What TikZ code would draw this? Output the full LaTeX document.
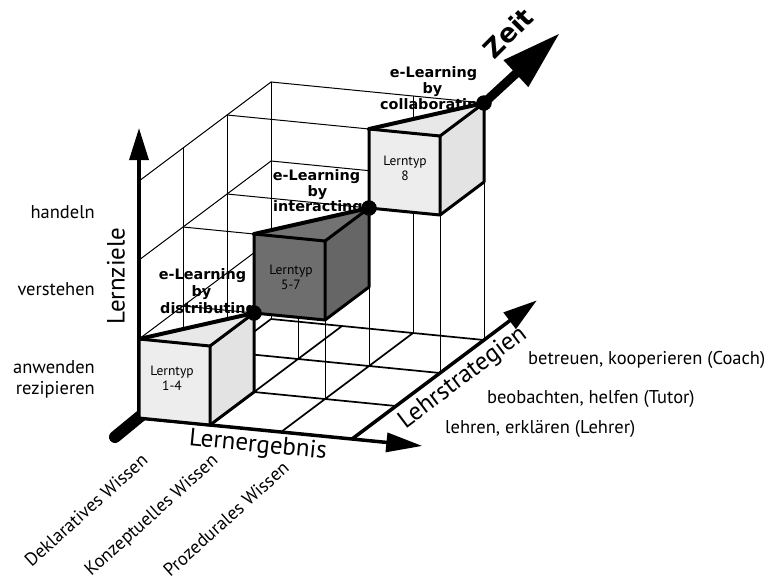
\documentclass[tikz,border=0pt]{standalone}
\usepackage{fontspec}
\setmainfont{PT Sans}
\newfontfamily\heavyfont{DejaVu Sans}
\usetikzlibrary{arrows.meta}
\newcommand\ecube[4]{%
  \fill[#2] (#1,#1,#1) -- (#1+1,#1,#1) -- (#1+1,#1+1,#1) -- (#1,#1+1,#1) -- cycle;
  \fill[#3] (#1+1,#1,#1) -- (#1+1,#1,#1+1) -- (#1+1,#1+1,#1+1) -- (#1+1,#1+1,#1) -- cycle;
  \fill[#4] (#1,#1+1,#1) -- (#1+1,#1+1,#1) -- (#1+1,#1+1,#1+1) -- cycle;
  \draw[cubeedge] (#1,#1,#1) -- (#1+1,#1,#1) -- (#1+1,#1+1,#1) -- (#1,#1+1,#1) -- cycle;
  \draw[cubeedge] (#1+1,#1,#1) -- (#1+1,#1,#1+1) -- (#1+1,#1+1,#1+1) -- (#1+1,#1+1,#1);
  \draw[zeitline] (#1,#1+1,#1) -- (#1+1,#1+1,#1+1);
}
\begin{document}
\begin{tikzpicture}[x=1pt,y=-1pt,
  gridline/.style={line width=1pt,line cap=round},
  floorline/.style={line width=1.7pt,line cap=round},
  cubeedge/.style={line width=3pt,line join=round,line cap=round},
  zeitline/.style={line width=4pt,line cap=round},
  axisline/.style={line width=3.5pt},
  lab/.style={font=\fontsize{18.5}{20}\selectfont,inner sep=0pt},
  axlab/.style={font=\fontsize{25}{28}\selectfont,inner sep=0pt},
  elab/.style={font=\heavyfont\bfseries\fontsize{14.4}{16}\selectfont,inner sep=0pt},
  typ/.style={font=\fontsize{13.5}{15}\selectfont,align=center,inner sep=0pt},
  dot/.style={circle,fill=black,minimum size=15.5pt,inner sep=0pt}
]
\useasboundingbox (0,0) rectangle (775,584);
\coordinate (zt) at (560,33);
\coordinate (stubA) at (143,414);
\coordinate (stubB) at (115,437);
\draw[line width=12pt,line cap=round] (stubA) -- (stubB);

\begin{scope}[shift={(139,418)},x={(71pt,-7pt)},y={(0pt,79pt)},z={(44pt,33pt)}]
  % left wall and upper steps
  \draw[gridline] (0,1,0)--(0,1,3) (0,2,0)--(0,2,3) (0,3,0)--(0,3,3);
  \draw[gridline] (0,0,1)--(0,3,1) (0,0,2)--(0,3,2) (0,0,3)--(0,3,3);
  \draw[gridline] (0,3,3)--(3,3,3) (0,2,3)--(3,2,3) (0,3,2)--(2,3,2)
                  (0,2,2)--(2,2,2) (0,2,1)--(1,2,1) (0,1,1)--(1,1,1);
  % columns under the cubes
  \draw[gridline] (1,0,2)--(1,1,2) (2,0,1)--(2,1,1) (2,0,2)--(2,2,2)
                  (3,0,2)--(3,2,2) (2,0,3)--(2,3,3) (3,0,3)--(3,3,3);
  % floor
  \draw[floorline] (0,0,1)--(3,0,1) (0,0,2)--(3,0,2) (0,0,3)--(3,0,3)
                   (0,0,0)--(0,0,3) (1,0,0)--(1,0,3) (2,0,0)--(2,0,3);
  % axes
  \draw[axisline,-{Triangle[length=32pt,width=19pt]}] (0,0,0) -- (0,3.67,0);
  \draw[axisline,-{Triangle[length=36pt,width=19pt]}] (0,0,0) -- (3.99,0,0);
  \draw[axisline,-{Triangle[length=34pt,width=20pt]}] (3,0,0) -- (3,0,4.2);
\end{scope}

% e-Learning labels
\node[elab,anchor=base] (d1) at (202.5,279) {e-Learning};
\node[elab,anchor=base] (d2) at (201.5,296) {by};
\node[elab,anchor=base west] (d3) at (160,313) {distributing};
\node[elab,anchor=base] (i1) at (316.5,180) {e-Learning};
\node[elab,anchor=base] (i2) at (317.5,196) {by};
\node[elab,anchor=base west] (i3) at (273,211) {interacting};
\node[elab,anchor=base] (c1) at (433.5,77) {e-Learning};
\node[elab,anchor=base] (c2) at (432.5,93) {by};
\node[elab,anchor=base west] (c3) at (380,109) {collaborating};

\begin{scope}[shift={(139,418)},x={(71pt,-7pt)},y={(0pt,79pt)},z={(44pt,33pt)}]
  \ecube{0}{black!7}{black!11}{black!9}
  \ecube{1}{black!57}{black!60}{black!55}
  \ecube{2}{black!7}{black!11}{black!9}
  \draw[line width=9pt,-{Triangle[length=60pt,width=34pt]}] (3,3,3) -- (zt);
  \node[dot] (p1) at (1,1,1) {};
  \node[dot] (p2) at (2,2,2) {};
  \node[dot] (p3) at (3,3,3) {};
\end{scope}

% cube labels
\node[typ] (t1) at (172,378) {Lerntyp\\1-4};
\node[typ] (t2) at (291,277) {Lerntyp\\5-7};
\node[typ] (t3) at (405,168) {Lerntyp\\8};

% Lernziele labels
\node[lab,anchor=base east] (h) at (95,218) {handeln};
\node[lab,anchor=base east] (v) at (95,295) {verstehen};
\node[lab,anchor=base east] (a) at (95,373) {anwenden};
\node[lab,anchor=base east] (r) at (95,394) {rezipieren};

% axis titles
\node[axlab,rotate=90] (lz) at (116,276) {Lernziele};
\node[axlab,rotate=-5.6] (le) at (258,446) {Lernergebnis};
\node[axlab,rotate=37] (ls) at (463,378) {Lehrstrategien};
\node[font=\heavyfont\bfseries\fontsize{26}{28}\selectfont,rotate=45,inner sep=0pt] (zeit) at (508,33) {Zeit};

% Lehrstrategien labels
\node[lab,anchor=base west] (s3) at (528,364) {betreuen, kooperieren (Coach)};
\node[lab,anchor=base west] (s2) at (487,403) {beobachten, helfen (Tutor)};
\node[lab,anchor=base west] (s1) at (445,433) {lehren, erklären (Lehrer)};

% Lernergebnis labels
\node[lab,rotate=42] (w1) at (86,510) {Deklaratives Wissen};
\node[lab,rotate=42] (w2) at (152,516) {Konzeptuelles Wissen};
\node[lab,rotate=42] (w3) at (226,519) {Prozedurales Wissen};
\end{tikzpicture}
\end{document}
